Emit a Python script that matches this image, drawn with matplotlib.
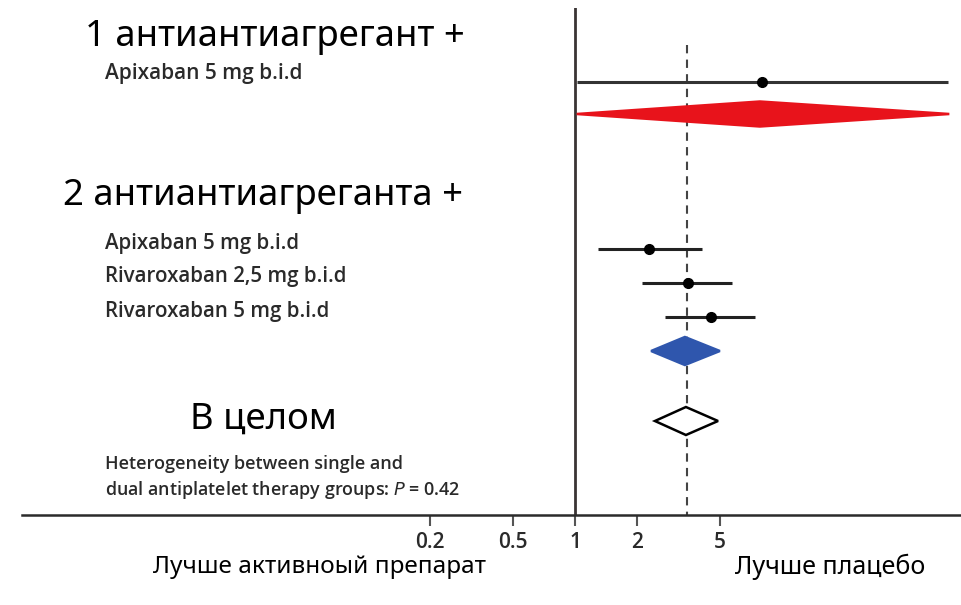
import matplotlib.pyplot as plt
import numpy as np
from matplotlib.patches import Polygon

plt.rcParams['font.family'] = ['Noto Sans', 'DejaVu Sans']

# Данные (отношение рисков, 95% ДИ)
single_labels = ["Apixaban 5 mg b.i.d"]
single_est = [8.0]
single_lo = [1.02]
single_hi = [63.0]
single_pool = (1.02, 7.8, 64.0)      # lo, est, hi

dual_labels = ["Apixaban 5 mg b.i.d", "Rivaroxaban 2,5 mg b.i.d", "Rivaroxaban 5 mg b.i.d"]
dual_est = [2.28, 3.51, 4.53]
dual_lo = [1.29, 2.1, 2.72]
dual_hi = [4.1, 5.72, 7.39]
dual_pool = (2.33, 3.39, 5.0)

overall_pool = (2.43, 3.43, 4.9)
overall_line = 3.47

tick_vals = [0.2, 0.5, 1, 2, 5]
tick_labels = ["0.2", "0.5", "1", "2", "5"]

W, H = 961, 605

# row positions (pixels from top)
y_single = [82]
y_single_pool = 114
y_dual = [249, 283, 317]
y_dual_pool = 351
y_overall = 421


def fx(x):
    return x / W


def fy(y):
    return 1 - y / H


fig = plt.figure(figsize=(W / 100, H / 100), dpi=100)
ax = fig.add_axes([fx(22), fy(515), 1 - fx(22), (515 - 8) / H])
ax.set_xscale('log')
ax.set_xlim(np.exp((22 - 575) / 90), np.exp((961 - 575) / 90))
ax.set_ylim(515, 8)

for s in ['top', 'right', 'left']:
    ax.spines[s].set_visible(False)
ax.spines['bottom'].set_linewidth(1.8)
ax.spines['bottom'].set_color('#2b2b2b')
ax.set_yticks([])
ax.set_xticks(tick_vals)
ax.set_xticklabels(tick_labels, fontsize=15, fontweight='semibold',
                   fontfamily=['Open Sans', 'DejaVu Sans'], color='#2a2a2a')
ax.minorticks_off()
ax.tick_params(axis='x', length=8, width=1.5, color='#555555', pad=4)

# линия "нет эффекта" и пунктир общего эффекта
ax.axvline(1, color='#3a3434', lw=2, zorder=1)
ax.plot([overall_line, overall_line], [45, 515], color='#444444', lw=1.5,
        ls=(0, (4, 3)), zorder=1)


def diamond(pool, y, h, fc, ec):
    lo, est, hi = pool
    d = Polygon([[lo, y], [est, y - h], [hi, y], [est, y + h]], closed=True,
                facecolor=fc, edgecolor=ec, lw=1.8, zorder=3)
    ax.add_patch(d)


# одна антитромбоцитарная терапия
ax.hlines(y_single, single_lo, single_hi, color='#333333', lw=2.2, zorder=2)
ax.plot(single_est, y_single, 'o', color='black', ms=7, zorder=3)
diamond(single_pool, y_single_pool, 12.5, '#e8131b', '#e8131b')

# двойная
ax.hlines(y_dual, dual_lo, dual_hi, color='#222222', lw=2.2, zorder=2)
ax.plot(dual_est, y_dual, 'o', color='black', ms=7, zorder=3)
diamond(dual_pool, y_dual_pool, 14, '#2f56ad', '#2f56ad')

# в целом
diamond(overall_pool, y_overall, 14, 'white', 'black')

# тексты
big = 26.3
fig.text(fx(85), fy(37), "1 антиантиагрегант +", fontsize=big, va='center')
fig.text(fx(63), fy(196), "2 антиантиагреганта +", fontsize=big, va='center')
fig.text(fx(190), fy(420), "В целом", fontsize=big, va='center')

small = dict(color='#2a2a2a', va='center', family=['Open Sans', 'DejaVu Sans'],
             fontweight='semibold')
for lab, y in zip(single_labels, y_single):
    fig.text(fx(105), fy(y - 8), lab, fontsize=15, **small)
for lab, y in zip(dual_labels, y_dual):
    fig.text(fx(105), fy(y - 6), lab, fontsize=14.8, **small)

fig.text(fx(105), fy(464), "Heterogeneity between single and", fontsize=13, **small)
fig.text(fx(105), fy(490), "dual antiplatelet therapy groups: $\\mathit{P}$ = 0.42",
         fontsize=12.9, **small)

fig.text(fx(153), fy(567), "Лучше активноый препарат", fontsize=17.5, va='center')
fig.text(fx(735), fy(567), "Лучше плацебо", fontsize=18, va='center')

fig.savefig('out.png', dpi=100)
